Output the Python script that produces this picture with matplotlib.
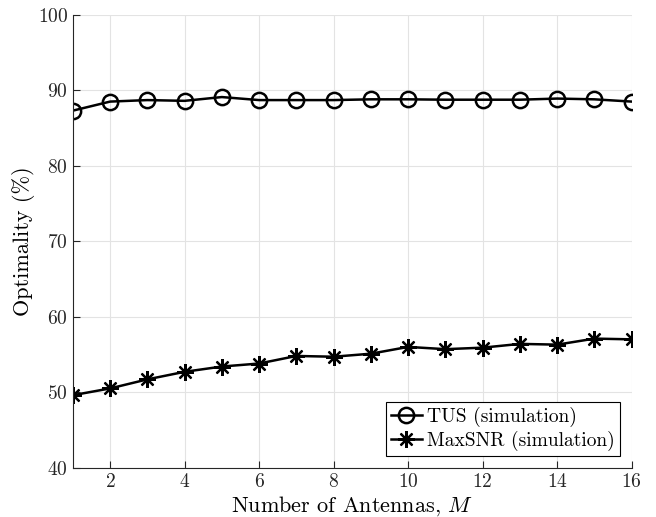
import matplotlib
matplotlib.use("Agg")
import matplotlib.pyplot as plt

M = list(range(1, 17))
tus = [87.3, 88.5, 88.7, 88.6, 89.1, 88.7, 88.7, 88.7, 88.8, 88.8, 88.75, 88.75, 88.75, 88.9, 88.8, 88.5]
maxsnr = [49.6, 50.5, 51.7, 52.7, 53.4, 53.8, 54.8, 54.7, 55.1, 56.0, 55.7, 55.9, 56.4, 56.3, 57.1, 57.0]
xticks = [2, 4, 6, 8, 10, 12, 14, 16]
yticks = [40, 50, 60, 70, 80, 90, 100]

plt.rcParams['font.family'] = ['cmr10', 'DejaVu Serif']
plt.rcParams['mathtext.fontset'] = 'cm'
plt.rcParams['axes.formatter.use_mathtext'] = True

fig = plt.figure(figsize=(6.56, 5.17), dpi=100)
ax = fig.add_axes([0.111, 0.0954, 0.852, 0.876])

ax.plot(M, tus, color='black', lw=1.8, marker='o', markersize=11, markerfacecolor='none',
        markeredgewidth=1.8, label='TUS (simulation)')
ax.plot(M, maxsnr, color='black', lw=1.8, marker=(8, 2, 0), markersize=12,
        markeredgewidth=1.6, label='MaxSNR (simulation)')

ax.set_xlim(1, 16)
ax.set_ylim(40, 100)
ax.set_xticks(xticks)
ax.set_yticks(yticks)
ax.grid(True, color='#e3e3e3', lw=0.8)
ax.set_axisbelow(True)
for s in ['top', 'right']:
    ax.spines[s].set_visible(False)
for s in ['left', 'bottom']:
    ax.spines[s].set_color('#262626')
    ax.spines[s].set_linewidth(0.8)
ax.tick_params(direction='in', length=5, width=0.8, labelsize=14, colors='#262626')
ax.set_xlabel('Number of Antennas, $M$', fontsize=16, labelpad=3)
ax.set_ylabel('Optimality (%)', fontsize=16, labelpad=2)

leg = ax.legend(loc='lower right', fontsize=14, fancybox=False, framealpha=1,
                edgecolor='black', handlelength=1.6, handletextpad=0.3,
                borderpad=0.25, labelspacing=0.2, borderaxespad=0.6)
leg.get_frame().set_linewidth(0.8)

fig.savefig('out.png', dpi=100)
